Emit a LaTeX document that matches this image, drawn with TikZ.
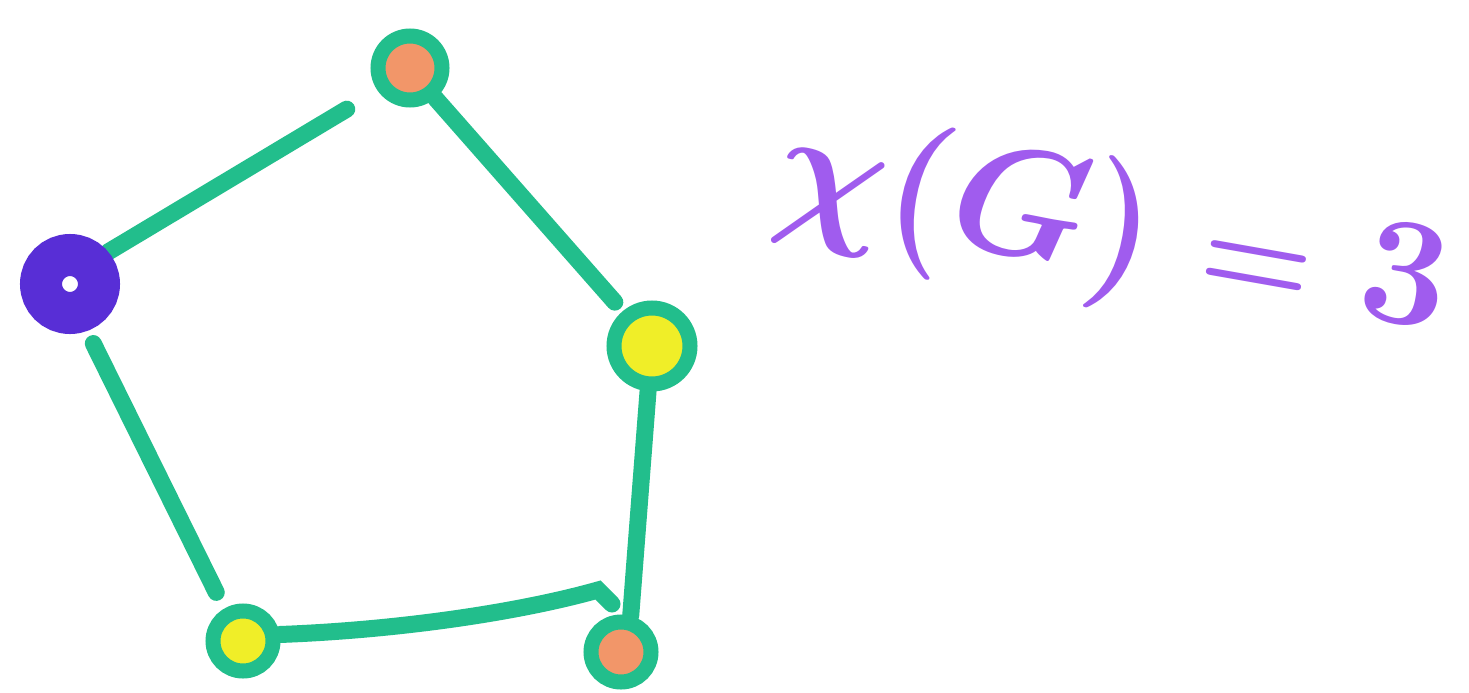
\documentclass[tikz,border=0pt]{standalone}
\usetikzlibrary{backgrounds}
\definecolor{edgegreen}{RGB}{34,190,140}
\definecolor{vorange}{RGB}{242,150,105}
\definecolor{vyellow}{RGB}{240,238,40}
\definecolor{vblue}{RGB}{88,46,214}
\definecolor{txtpurple}{RGB}{160,92,238}
\tikzset{
  edge/.style={draw=edgegreen, line width=17pt, line cap=round},
  ringv/.style={circle, draw=edgegreen, line width=15pt, minimum size=66pt, inner sep=0pt},
  orangev/.style={ringv, fill=vorange},
  yellowv/.style={ringv, fill=vyellow},
  bluev/.style={circle, draw=vblue, line width=42pt, fill=white, minimum size=58pt, inner sep=0pt},
  label/.style={text=txtpurple, rotate=-10, scale=6.2, font=\Huge\boldmath}
}
\begin{document}
\begin{tikzpicture}[x=1pt,y=-1pt]
\useasboundingbox (0,0) rectangle (1469,693);
\node[orangev, minimum size=64pt] (T) at (410,68) {};
\node[bluev] (L) at (70,284) {};
\node[yellowv, minimum size=76pt] (R) at (652,346) {};
\node[yellowv, minimum size=60pt] (BL) at (243,641) {};
\node[orangev, minimum size=60pt] (BR) at (621,652) {};
\begin{pgfonlayer}{background}
\fill[white] (0,0) rectangle (1469,693);
\draw[edge, shorten >=36pt] (L.40) -- (T.215);
\draw[edge, shorten >=12pt] (T.-50) -- (R.130);
\draw[edge] (R.265) -- (BR.75);
\draw[edge, shorten <=14pt, shorten >=18pt] (L.-70) -- (BL.120);
\draw[edge] (BL.10) .. controls (400,630) and (520,612) .. (598,590) -- (612,604);
\end{pgfonlayer}
\node[label] (chi) at (1112,234) {$\chi(G)\mkern5mu{\scriptstyle=}\mkern5mu3$};
\end{tikzpicture}
\end{document}
